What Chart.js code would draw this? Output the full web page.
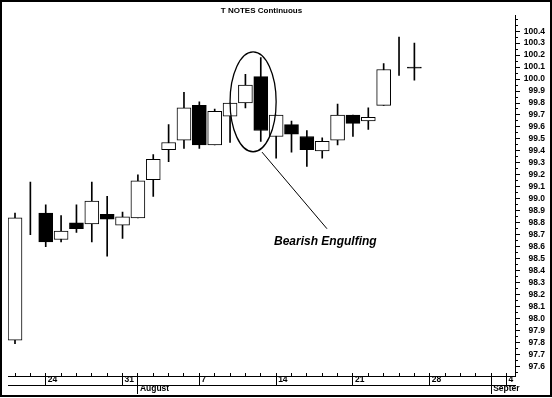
<!DOCTYPE html>
<html>
<head>
<meta charset="utf-8">
<script src="https://cdn.jsdelivr.net/npm/chart.js@4.4.0/dist/chart.umd.min.js"></script>
<style>
  html, body { margin: 0; padding: 0; background: #fff; }
  #wrap { width: 552px; height: 398px; position: relative; }
</style>
</head>
<body>
<div id="wrap"><canvas id="chart"></canvas></div>
<script>
// T NOTES Continuous - daily bars, 20 Jul to 4 Sep (index = trading day)
var dayNumbers = [20, 21, 24, 25, 26, 27, 28, 31, 1, 2, 3, 4, 7, 8, 9, 10, 11, 14, 15, 16, 17, 18, 21, 22, 23, 24, 25, 28, 29, 30, 31, 1, 4];
var mondays = [2, 7, 12, 17, 22, 27, 32];
var monthStarts = [8, 31];
var monthNames = ['August', 'Septer'];

var opens  = [97.82, null, 98.88, 98.66, 98.80, 98.79, 98.87, 98.78, 98.84, 99.16, 99.41, 99.49, 99.78, 99.45, 99.69, 99.80, 100.02, 99.52, 99.62, 99.52, 99.40, 99.49, 99.70, 99.65, 99.78, null, 100.10];
var highs  = [98.88, 99.14, 98.95, 98.86, 98.95, 99.14, 99.02, 98.89, 99.20, 99.37, 99.62, 99.89, 99.81, 99.75, 99.80, 100.04, 100.18, 99.70, 99.65, 99.57, 99.51, 99.79, 99.70, 99.76, 100.13, 100.35, 100.30];
var lows   = [97.79, 98.70, 98.60, 98.64, 98.72, 98.64, 98.52, 98.67, 98.84, 99.02, 99.31, 99.42, 99.42, 99.45, 99.47, 99.76, 99.48, 99.34, 99.39, 99.27, 99.34, 99.45, 99.52, 99.58, 99.78, 100.03, 99.99];
var closes = [98.84, null, 98.64, 98.73, 98.75, 98.98, 98.83, 98.85, 99.15, 99.33, 99.47, 99.76, 99.45, 99.73, 99.80, 99.95, 99.57, 99.70, 99.54, 99.41, 99.48, 99.70, 99.63, 99.68, 100.08, null, 100.09];

var priceTicks = [97.6, 97.7, 97.8, 97.9, 98.0, 98.1, 98.2, 98.3, 98.4, 98.5, 98.6, 98.7, 98.8, 98.9, 99.0,
                  99.1, 99.2, 99.3, 99.4, 99.5, 99.6, 99.7, 99.8, 99.9, 100.0, 100.1, 100.2, 100.3, 100.4];

var FONT = "'Liberation Sans', Arial, sans-serif";
var X_MIN = -0.456, X_MAX = 32.55;

function isLabelled(v) {
    return priceTicks.some(function (p) { return Math.abs(p - v) < 1e-6; });
}

// wick: low-high, body: open-close
var wickData = lows.map(function (l, i) { return { x: i, y: [l, highs[i]] }; });
var bodyData = [], bodyColors = [];
opens.forEach(function (o, i) {
    if (o === null) return;
    bodyData.push({ x: i, y: [o, closes[i]] });
    bodyColors.push(closes[i] >= o ? '#fff' : '#000');
});

// ellipse + pointer + caption, placed in data units
var callout = {
    cx: 15.5, cy: 99.81, rx: 1.5, ry: 0.417,
    x1: 16.08, y1: 99.39, x2: 20.31, y2: 98.75,
    tx: 16.86, ty: 98.64,
    text: 'Bearish Engulfing'
};

var calloutPlugin = {
    id: 'callout',
    afterDatasetsDraw: function (chart) {
        var xs = chart.scales.x, ys = chart.scales.y, c = chart.ctx;
        var cx = xs.getPixelForValue(callout.cx), cy = ys.getPixelForValue(callout.cy);
        var rx = xs.getPixelForValue(callout.cx + callout.rx) - cx;
        var ry = cy - ys.getPixelForValue(callout.cy + callout.ry);
        c.save();
        c.strokeStyle = '#000';
        c.lineWidth = 1.3;
        c.beginPath();
        c.ellipse(cx, cy, rx, ry, 0, 0, Math.PI * 2);
        c.stroke();
        c.lineWidth = 1;
        c.beginPath();
        c.moveTo(xs.getPixelForValue(callout.x1), ys.getPixelForValue(callout.y1));
        c.lineTo(xs.getPixelForValue(callout.x2), ys.getPixelForValue(callout.y2));
        c.stroke();
        c.fillStyle = '#000';
        c.font = 'italic bold 12px ' + FONT;
        c.textAlign = 'left';
        c.textBaseline = 'middle';
        c.fillText(callout.text, xs.getPixelForValue(callout.tx), ys.getPixelForValue(callout.ty));
        c.restore();
    }
};

var framePlugin = {
    id: 'frame',
    afterDraw: function (chart) {
        var c = chart.ctx;
        c.save();
        c.strokeStyle = '#000';
        c.lineWidth = 2;
        c.strokeRect(1, 1, chart.width - 2, chart.height - 3);
        c.restore();
    }
};

Chart.defaults.color = '#000';
Chart.defaults.font.family = FONT;

var ctx = document.getElementById('chart').getContext('2d');
var chart = new Chart(ctx, {
    type: 'bar',
    data: {
        datasets: [{
            label: 'wick',
            data: wickData,
            backgroundColor: '#000',
            barThickness: 1,
            grouped: false,
            order: 2
        }, {
            label: 'body',
            data: bodyData,
            backgroundColor: bodyColors,
            borderColor: '#000',
            borderWidth: 1,
            borderSkipped: false,
            barThickness: 14,
            grouped: false,
            order: 1
        }]
    },
    options: {
        responsive: true,
        maintainAspectRatio: false,
        animation: false,
        layout: { padding: { left: 8, right: 7, top: 0, bottom: 4 } },
        plugins: {
            legend: { display: false },
            tooltip: { enabled: false },
            title: {
                display: true,
                text: 'T NOTES Continuous',
                fullSize: false,
                color: '#000',
                font: { size: 8, weight: 'bold', family: FONT },
                padding: { top: 6, bottom: 0 }
            }
        },
        scales: {
            x: {
                type: 'linear',
                position: 'bottom',
                min: X_MIN,
                max: X_MAX,
                offset: false,
                weight: 0,
                afterBuildTicks: function (s) {
                    s.ticks = dayNumbers.map(function (d, i) { return { value: i }; });
                },
                afterFit: function (s) { s.height = 9; },
                border: {
                    display: true, color: '#000', width: 1,
                    dash: [3, 1000],
                    dashOffset: function (c) {
                        var a = c.chart.chartArea;
                        return a ? 1003 - (a.bottom - a.top - 3) : 0;
                    }
                },
                grid: {
                    offset: false,
                    drawOnChartArea: true,
                    color: '#000',
                    lineWidth: 1,
                    tickLength: 9,
                    tickColor: function (c) {
                        var v = c.tick ? c.tick.value : -1;
                        return (mondays.indexOf(v) >= 0 || monthStarts.indexOf(v) >= 0) ? '#000' : 'rgba(0,0,0,0)';
                    }
                },
                ticks: {
                    autoSkip: false,
                    maxRotation: 0,
                    align: 'start',
                    labelOffset: 2,
                    padding: -10,
                    font: { size: 8.5, weight: 'bold' },
                    callback: function (v) {
                        return mondays.indexOf(v) >= 0 ? String(dayNumbers[v]) : '';
                    }
                }
            },
            xm: {
                type: 'linear',
                position: 'bottom',
                min: X_MIN,
                max: X_MAX,
                offset: false,
                weight: 1,
                afterBuildTicks: function (s) {
                    s.ticks = monthStarts.map(function (v) { return { value: v }; });
                },
                afterFit: function (s) { s.height = 9; },
                border: { display: true, color: '#000', width: 1 },
                grid: { offset: false, drawOnChartArea: false, color: '#000', tickLength: 9 },
                ticks: {
                    autoSkip: false,
                    maxRotation: 0,
                    align: 'start',
                    labelOffset: 2,
                    padding: -10,
                    font: { size: 8.5, weight: 'bold' },
                    callback: function (v) {
                        var k = monthStarts.indexOf(v);
                        return k >= 0 ? monthNames[k] : '';
                    }
                }
            },
            y: {
                type: 'linear',
                position: 'right',
                min: 97.52,
                max: 100.53,
                afterBuildTicks: function (s) {
                    var t = [];
                    priceTicks.forEach(function (v) {
                        t.push({ value: Math.round((v - 0.05) * 100) / 100 });
                        t.push({ value: v });
                    });
                    t.push({ value: 100.45 }, { value: 100.5 });
                    s.ticks = t;
                },
                afterFit: function (s) { s.width = 30; },
                border: { display: true, color: '#000', width: 1 },
                grid: {
                    drawOnChartArea: false,
                    color: '#000',
                    tickLength: 5,
                    tickBorderDash: function (c) {
                        return (c.tick && isLabelled(c.tick.value)) ? [] : [2, 20];
                    }
                },
                ticks: {
                    autoSkip: false,
                    padding: 3,
                    crossAlign: 'far',
                    font: { size: 8.5, weight: 'bold' },
                    callback: function (v) {
                        return isLabelled(v) ? v.toFixed(1) : '';
                    }
                }
            }
        }
    },
    plugins: [calloutPlugin, framePlugin]
});
</script>
</body>
</html>
